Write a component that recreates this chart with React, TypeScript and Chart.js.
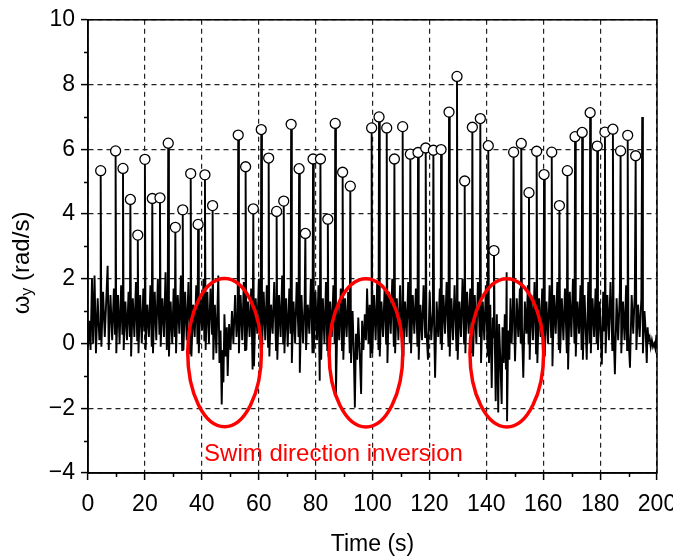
import { useEffect, useRef } from 'react';
import { Chart, registerables } from 'chart.js';
Chart.register(...registerables);

const FONT = '"Liberation Sans", Arial, Helvetica, sans-serif';
const RED = '#ff0000';

// circled peaks (time s, omega_y rad/s)
const peakT = [4.46, 9.7, 12.3, 14.9, 17.5, 20.0, 22.6, 25.3, 28.2, 30.7, 33.3, 36.1, 38.7, 41.1, 43.8,
  52.8, 55.4, 58.1, 60.9, 63.5, 66.3, 68.8, 71.4, 74.2, 76.4, 79.1, 81.7, 84.3, 86.9, 89.5, 92.2,
  99.7, 102.3, 105.0, 107.7, 110.6, 113.3, 116.0, 118.7, 121.4, 124.1, 126.9, 129.7, 132.4, 135.1, 137.9, 140.7, 142.7,
  149.6, 152.3, 155.0, 157.7, 160.3, 163.0, 165.7, 168.5, 171.2, 173.7, 176.5, 179.0, 181.7, 184.5, 187.2, 189.7, 192.5];
const peakV = [5.34, 5.95, 5.41, 4.45, 3.35, 5.69, 4.48, 4.50, 6.19, 3.59, 4.13, 5.25, 3.68, 5.21, 4.26,
  6.44, 5.46, 4.16, 6.61, 5.73, 4.08, 4.40, 6.77, 5.40, 3.40, 5.70, 5.70, 3.84, 6.80, 5.29, 4.86,
  6.66, 7.00, 6.66, 5.70, 6.70, 5.85, 5.90, 6.04, 5.97, 5.99, 7.15, 8.25, 5.02, 6.68, 6.95, 6.11, 2.87,
  5.91, 6.18, 4.66, 5.94, 5.22, 5.91, 4.26, 5.34, 6.39, 6.52, 7.13, 6.10, 6.53, 6.62, 5.95, 6.43, 5.80];

// spikes without a marker
const extraT = [194.8];
const extraV = [7.0];

// baseline signal between spikes [t, omega]
const baseSignal: [number, number][] = [
  [0, -0.1], [0.5, 0.7], [0.9, -0.2], [1.4, 2.0], [1.8, 0.0], [2.3, 2.1], [2.8, -0.3], [3.4, 1.4], [4.0, 0.1], [4.3, 0.6],
  [4.7, -0.1], [5.3, 1.6], [5.9, 0.2], [6.9, 2.4], [7.3, -0.2], [7.9, 1.5], [8.5, 0.1], [9.1, 1.7], [9.5, 0.3],
  [9.95, -0.3], [10.55, 1.5], [11.1, 0.0], [11.65, 1.8], [12.1, 0.3],
  [12.55, -0.2], [13.15, 1.3], [13.7, 0.1], [14.25, 1.6], [14.7, 0.2],
  [15.15, -0.4], [15.75, 1.4], [16.3, 0.2], [16.85, 1.9], [17.3, 0.1],
  [17.75, -0.3], [18.35, 1.5], [18.9, 0.0], [19.45, 1.7], [19.8, 0.4],
  [20.25, -0.2], [20.85, 1.2], [21.4, 0.2], [21.95, 1.8], [22.4, -0.1],
  [22.85, -0.3], [23.45, 1.6], [24.0, 0.1], [24.55, 2.0], [25.1, 0.3],
  [25.55, -0.1], [26.15, 1.4], [26.7, 0.2], [27.25, 2.2], [27.7, -0.2], [28.0, 0.5],
  [28.45, -0.4], [29.05, 1.3], [29.6, 0.0], [30.1, 1.7], [30.5, 0.2],
  [30.95, -0.3], [31.55, 1.5], [32.1, 0.3], [32.65, 2.1], [33.1, -0.2],
  [33.55, -0.2], [34.15, 1.6], [34.7, 0.1], [35.3, 1.9], [35.9, -0.3],
  [36.35, -0.4], [36.95, 1.2], [37.5, 0.2], [38.05, 1.8], [38.5, 0.0],
  [38.95, -0.3], [39.55, 1.4], [40.1, 0.4], [40.6, 2.0], [40.9, 0.1],
  [41.35, -0.2], [41.95, 1.6], [42.5, 0.0], [43.05, 1.7], [43.6, 0.3],
  [44.05, -0.5], [44.6, 1.2], [45.1, -0.3], [45.8, 2.1], [46.2, -0.6], [46.6, 0.4], [47.0, -1.88], [47.35, -0.2], [47.6, -1.2], [47.95, 0.9], [48.4, -0.4], [48.8, 0.5], [49.1, -1.0], [49.6, 0.6], [50.1, -0.2], [50.6, 1.0], [51.1, 0.0], [51.7, 1.5], [52.2, 0.2], [52.6, 0.8],
  [53.05, -0.3], [53.65, 1.5], [54.2, 0.1], [54.75, 1.9], [55.2, -0.2],
  [55.65, -0.2], [56.25, 1.3], [56.8, 0.2], [57.35, 1.7], [57.85, -0.8],
  [58.35, -0.7], [58.95, 1.4], [59.5, 0.3], [60.05, 2.0], [60.7, 0.0],
  [61.15, -0.3], [61.75, 1.6], [62.3, 0.1], [62.85, 1.8], [63.3, -0.1],
  [63.75, -0.4], [64.35, 1.2], [64.9, 0.3], [65.45, 1.9], [66.1, -0.2],
  [66.55, -0.5], [67.15, 1.5], [67.7, 0.2], [68.25, 2.1], [68.6, 0.0],
  [69.05, -0.3], [69.65, 1.4], [70.2, -0.1], [70.75, 1.7], [71.2, 0.3],
  [71.65, -0.6], [72.25, 1.3], [72.8, 0.0], [73.35, 1.9], [74.0, 0.2],
  [74.45, -0.9], [75.05, 1.5], [75.6, 0.0], [76.15, 1.3],
  [76.65, -0.2], [77.25, 1.2], [77.8, 0.3], [78.35, 2.0], [78.9, -0.3],
  [79.35, -0.3], [79.95, 1.6], [80.5, 0.1], [81.0, 1.8], [81.45, -1.15],
  [81.95, -0.5], [82.55, 1.4], [83.1, 0.0], [83.65, 1.9], [84.1, -0.2],
  [84.55, -0.4], [85.15, 1.3], [85.7, 0.2], [86.25, 1.8], [86.7, 0.0],
  [87.15, -1.6], [87.75, 1.2], [88.3, 0.1], [88.85, 1.7], [89.3, -0.2],
  [89.75, -0.5], [90.35, 1.4], [90.9, 0.2], [91.45, 1.6], [92.0, -0.3],
  [92.45, -0.6], [93.0, 1.0], [93.4, -0.2], [93.8, -1.98], [94.2, 0.3], [94.6, -0.5], [95.0, 0.8], [95.5, -0.3], [96.0, -1.56], [96.35, 0.7], [96.8, -0.2], [97.3, 0.9], [97.7, 0.1], [98.1, 1.7], [98.6, 0.0], [99.0, 1.2], [99.3, -0.45], [99.55, 0.9],
  [99.95, -0.3], [100.55, 1.5], [101.1, 0.1], [101.65, 1.9], [102.1, -0.2],
  [102.55, -0.4], [103.15, 1.3], [103.7, 0.2], [104.25, 1.7], [104.8, 0.0],
  [105.25, -0.6], [105.85, 1.6], [106.4, 0.3], [106.95, 2.0], [107.5, -0.1],
  [107.95, -0.3], [108.55, 1.4], [109.1, 0.1], [109.7, 1.8], [110.4, -0.2],
  [110.85, -0.4], [111.45, 1.3], [112.0, 0.2], [112.55, 1.9], [113.1, 0.0],
  [113.55, -0.3], [114.15, 1.5], [114.7, 0.3], [115.25, 1.7], [115.8, -0.1],
  [116.25, -0.5], [116.85, 1.2], [117.4, 0.1], [117.95, 1.8], [118.5, 0.2],
  [118.95, 0.4], [119.5, -0.5], [120.1, 1.6], [120.65, 0.1], [121.2, 1.0],
  [121.65, 0.6], [122.0, -1.06], [122.55, 1.3], [123.1, 0.2], [123.65, 1.7], [123.95, 0.0],
  [124.35, -0.2], [124.95, 1.5], [125.5, 0.3], [126.05, 1.9], [126.7, -0.1],
  [127.15, -0.4], [127.75, 1.4], [128.3, 0.1], [128.85, 1.8], [129.5, -0.2],
  [129.95, -0.5], [130.55, 1.3], [131.1, 0.2], [131.65, 2.0], [132.2, 0.0],
  [132.65, -0.3], [133.25, 1.6], [133.8, 0.3], [134.35, 1.7], [134.9, -0.3],
  [135.35, -0.4], [135.95, 1.5], [136.5, 0.0], [137.05, 1.9], [137.7, 0.2],
  [138.15, -0.6], [138.75, 1.3], [139.3, 0.1], [139.85, 1.8], [140.5, -0.4],
  [140.95, -0.6], [141.4, 1.2], [141.9, -1.37], [142.3, 0.8], [142.55, 0.2],
  [142.95, 0.3], [143.3, -1.78], [143.7, 0.9], [144.2, -2.13], [144.5, 0.6], [144.9, -0.4], [145.4, -1.87], [145.7, 0.5], [146.1, -0.6], [146.5, 0.9], [146.9, -0.8], [147.15, 2.2], [147.3, -2.4], [147.7, 0.4], [148.1, -0.5], [148.5, 1.4], [148.9, 0.0], [149.35, 1.2],
  [149.85, 0.4], [150.1, -0.55], [150.7, 1.4], [151.25, 0.2], [151.8, 1.7], [152.1, 0.0],
  [152.55, 0.5], [153.0, -1.06], [153.55, 1.3], [154.1, 0.3], [154.6, 1.8], [154.85, 0.0],
  [155.25, -0.5], [155.85, 1.5], [156.4, 0.1], [156.95, 1.9], [157.5, -0.3],
  [157.95, -0.6], [158.55, 1.4], [159.1, 0.2], [159.65, 1.7], [160.1, -0.1],
  [160.55, -0.4], [161.15, 1.3], [161.7, 0.0], [162.25, 1.8], [162.8, 0.2],
  [163.25, -0.7], [163.85, 1.5], [164.4, 0.3], [164.95, 1.9], [165.5, -0.2],
  [165.95, -0.3], [166.55, 1.4], [167.1, 0.1], [167.65, 1.7], [168.3, -0.3],
  [168.75, -0.8], [169.35, 1.6], [169.9, 0.2], [170.45, 2.0], [171.0, 0.0],
  [171.45, -0.4], [172.05, 1.3], [172.6, 0.3], [173.1, 1.8], [173.5, -0.2],
  [173.95, -0.5], [174.55, 1.5], [175.3, -0.5], [175.85, 1.9], [176.3, 0.0],
  [176.75, -0.3], [177.35, 1.4], [177.9, 0.2], [178.4, 1.7], [178.8, 0.0],
  [179.25, -0.2], [179.85, 1.3], [180.6, -0.65], [181.1, 1.6], [181.5, 0.4],
  [181.95, -0.3], [182.55, 1.5], [183.1, 0.1], [183.65, 1.9], [184.3, -0.2],
  [184.75, 0.4], [185.2, -0.95], [185.8, 1.4], [186.35, 0.1], [186.95, 1.6],
  [187.45, -0.3], [188.05, 1.3], [188.6, 0.1], [189.15, 1.8], [189.5, -0.2],
  [189.95, 0.3], [190.5, -0.75], [191.1, 1.5], [191.65, 0.3], [192.2, 1.6],
  [192.75, -0.2], [193.35, 1.2], [193.9, 0.2], [194.5, 1.4],
  [195.05, -0.3], [195.6, 1.0], [196.0, 0.4], [196.4, -0.6], [196.7, 0.5], [197.0, 0.1], [197.4, 0.2], [197.8, -0.1], [198.2, 0.1], [198.6, -0.1], [199.0, 0.0], [199.4, -0.15], [199.8, 0.27], [200, -0.05],
];

// axis ticks
const xMinorTicks = [10, 30, 50, 70, 90, 110, 130, 150, 170, 190];
const yMinorTicks = [-3, -1, 1, 3, 5, 7, 9];

// annotation: ellipses (centre t, centre v, half-width s, half-height rad/s)
const ellipseT = [48.0, 97.7, 147.2];
const ellipseV = [-0.28, -0.29, -0.29];
const ellipseRT = 12.95;
const ellipseRV = 2.29;
const noteText = 'Swim direction inversion';
const noteT = 40.8;
const noteV = -3.62;

const decorPlugin = {
  id: 'decor',
  afterDraw(chart: any) {
    const { ctx, chartArea: a, scales } = chart;
    const xs = scales.x;
    const ys = scales.y;
    ctx.save();
    ctx.setLineDash([]);
    // frame
    ctx.strokeStyle = '#000';
    ctx.lineWidth = 1.5;
    ctx.strokeRect(a.left, a.top, a.right - a.left, a.bottom - a.top);
    // minor ticks
    ctx.beginPath();
    for (const t of xMinorTicks) {
      const px = Math.round(xs.getPixelForValue(t)) + 0.5;
      ctx.moveTo(px, a.bottom);
      ctx.lineTo(px, a.bottom + 4);
    }
    for (const v of yMinorTicks) {
      const py = Math.round(ys.getPixelForValue(v)) + 0.5;
      ctx.moveTo(a.left, py);
      ctx.lineTo(a.left - 4, py);
    }
    ctx.stroke();
    // ellipses
    ctx.strokeStyle = RED;
    ctx.lineWidth = 3.5;
    for (let i = 0; i < ellipseT.length; i++) {
      const cx = xs.getPixelForValue(ellipseT[i]);
      const cy = ys.getPixelForValue(ellipseV[i]);
      const rx = Math.abs(xs.getPixelForValue(ellipseT[i] + ellipseRT) - cx);
      const ry = Math.abs(ys.getPixelForValue(ellipseV[i] + ellipseRV) - cy);
      ctx.beginPath();
      ctx.ellipse(cx, cy, rx, ry, 0, 0, Math.PI * 2);
      ctx.stroke();
    }
    // note text
    ctx.fillStyle = RED;
    ctx.font = `24px ${FONT}`;
    ctx.textAlign = 'left';
    ctx.textBaseline = 'alphabetic';
    ctx.fillText(noteText, xs.getPixelForValue(noteT), ys.getPixelForValue(noteV));
    // x title
    ctx.fillStyle = '#000';
    ctx.font = `23px ${FONT}`;
    ctx.textAlign = 'center';
    ctx.textBaseline = 'middle';
    ctx.fillText('Time (s)', (a.left + a.right) / 2, 545);
    // y title with subscript
    ctx.translate(22, 263);
    ctx.rotate(-Math.PI / 2);
    ctx.textAlign = 'left';
    ctx.font = `24px ${FONT}`;
    const w1 = ctx.measureText('ω').width;
    const w3 = ctx.measureText(' (rad/s)').width;
    ctx.font = `16px ${FONT}`;
    const w2 = ctx.measureText('y').width;
    const start = -(w1 + w2 + w3) / 2;
    ctx.font = `24px ${FONT}`;
    ctx.fillText('ω', start, 0);
    ctx.fillText(' (rad/s)', start + w1 + w2, 0);
    ctx.font = `16px ${FONT}`;
    ctx.fillText('y', start + w1, 6);
    ctx.restore();
  },
};

export default function App() {
  const ref = useRef<HTMLCanvasElement | null>(null);
  useEffect(() => {
    if (!ref.current) return;
    const spikes: [number, number][] = [
      ...peakT.map((t, i) => [t, peakV[i]] as [number, number]),
      ...extraT.map((t, i) => [t, extraV[i]] as [number, number]),
    ];
    const signal = [...baseSignal, ...spikes].sort((p, q) => p[0] - q[0]).map(([x, y]) => ({ x, y }));
    const peaks = peakT.map((t, i) => ({ x: t, y: peakV[i] }));
    const chart = new Chart(ref.current, {
      type: 'scatter',
      data: {
        datasets: [
          {
            data: peaks,
            order: 0,
            showLine: false,
            pointRadius: 5,
            pointBackgroundColor: '#fff',
            pointBorderColor: '#000',
            pointBorderWidth: 1.3,
          },
          {
            data: signal,
            order: 1,
            showLine: true,
            borderColor: '#000',
            borderWidth: 1.9,
            pointRadius: 0,
            tension: 0,
            fill: false,
          },
        ],
      },
      options: {
        animation: false,
        responsive: false,
        events: [],
        layout: { padding: { top: 14, right: 34, left: 0, bottom: 0 } },
        plugins: { legend: { display: false }, tooltip: { enabled: false } },
        scales: {
          x: {
            type: 'linear',
            min: 0,
            max: 200,
            ticks: { stepSize: 20, color: '#000', font: { family: FONT, size: 23 }, padding: 11, maxRotation: 0, autoSkip: false },
            grid: { color: '#222', lineWidth: 1.2, tickLength: 7, tickColor: '#000', tickWidth: 1.5, tickBorderDash: [] },
            border: { display: true, color: '#000', width: 1.5, dash: [5, 4] },
            afterFit: (s: any) => { s.height = 87; },
          },
          y: {
            type: 'linear',
            min: -4,
            max: 10,
            ticks: {
              stepSize: 2,
              color: '#000',
              font: { family: FONT, size: 23 },
              padding: 6,
              callback: (v: any) => String(v).replace('-', '\u2212'),
            },
            grid: { color: '#222', lineWidth: 1.2, tickLength: 7, tickColor: '#000', tickWidth: 1.5, tickBorderDash: [] },
            border: { display: true, color: '#000', width: 1.5, dash: [5, 4] },
            afterFit: (s: any) => { s.width = 88; },
          },
        },
      },
      plugins: [decorPlugin],
    } as any);
    return () => chart.destroy();
  }, []);
  return (
    <div style={{ position: 'absolute', left: 0, top: 0, width: 673, height: 560, overflow: 'hidden', background: '#fff' }}>
      <canvas ref={ref} width={691} height={560} style={{ width: 691, height: 560, display: 'block' }} />
    </div>
  );
}
